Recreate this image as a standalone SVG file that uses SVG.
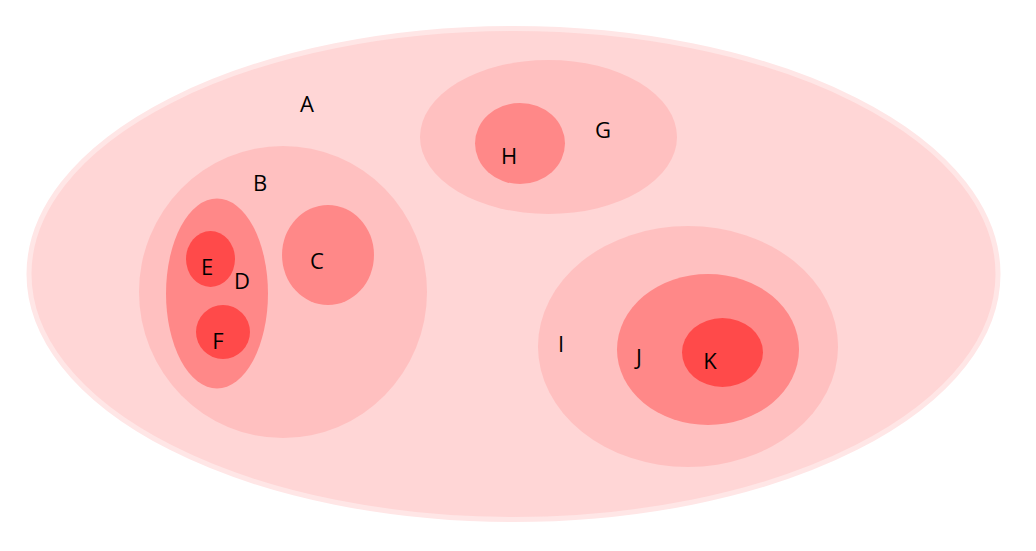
<svg xmlns="http://www.w3.org/2000/svg" width="1036" height="551" viewBox="0 0 1036 551">
<style>
.l1{fill:#FFD6D6;stroke:#FFE6E6;stroke-width:5}
.l2{fill:#FFC0C0}
.l3{fill:#FF8888}
.l4{fill:#FF4A4A}
text{font-family:"Open Sans","Noto Sans","Liberation Sans",sans-serif;font-size:22px;fill:#000;text-anchor:middle}
</style>
<rect width="1036" height="551" fill="#fff"/>
<g id="A"><ellipse class="l1" cx="513.5" cy="274" rx="484.5" ry="245.5"/><text x="307" y="112">A</text></g>
<g id="B"><ellipse class="l2" cx="283" cy="292" rx="144" ry="146"/><text x="260" y="191">B</text></g>
<g id="D"><ellipse class="l3" cx="217" cy="293.5" rx="51" ry="95"/><text x="242" y="289">D</text></g>
<g id="E"><ellipse class="l4" cx="210.5" cy="259" rx="24.5" ry="28"/><text x="207" y="275">E</text></g>
<g id="F"><ellipse class="l4" cx="223" cy="332" rx="27" ry="27"/><text x="218" y="349">F</text></g>
<g id="C"><ellipse class="l3" cx="328" cy="255" rx="46" ry="50"/><text x="317" y="269">C</text></g>
<g id="G"><ellipse class="l2" cx="548.5" cy="137" rx="128.5" ry="77"/><text x="603" y="138">G</text></g>
<g id="H"><ellipse class="l3" cx="520" cy="143.5" rx="45" ry="40.5"/><text x="509" y="164">H</text></g>
<g id="I"><ellipse class="l2" cx="688" cy="346.5" rx="150" ry="120.5"/><text x="561" y="352">I</text></g>
<g id="J"><ellipse class="l3" cx="708" cy="349.5" rx="91" ry="75.5"/><text x="639" y="365">J</text></g>
<g id="K"><ellipse class="l4" cx="722.5" cy="352.5" rx="40.5" ry="34.5"/><text x="710" y="369">K</text></g>
<g id="connectors"></g>
</svg>
